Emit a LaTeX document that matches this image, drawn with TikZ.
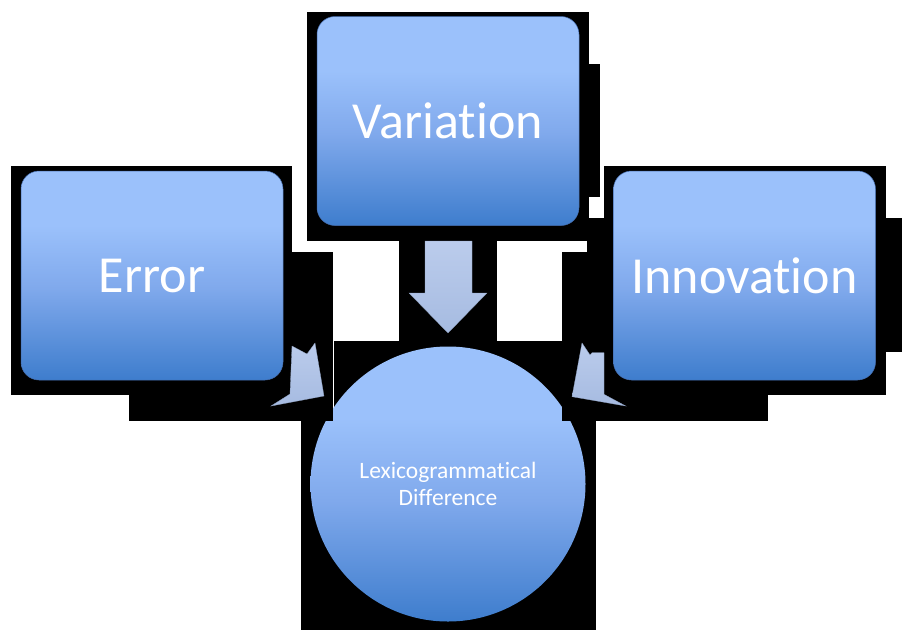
\documentclass[tikz,border=0pt]{standalone}
\usepackage{fontspec}
\setmainfont{Carlito}[Ligatures={NoCommon,NoRequired,NoContextual}]
\definecolor{bbot}{RGB}{62,125,205}
\definecolor{bmid}{RGB}{128,169,236}
\definecolor{btop}{RGB}{155,193,251}
\definecolor{atop}{RGB}{187,204,236}
\definecolor{abot}{RGB}{166,187,225}
\definecolor{bedge}{RGB}{70,110,175}
\pgfdeclareverticalshading{boxshade}{100bp}{color(0bp)=(bbot); color(25bp)=(bbot); color(47bp)=(bmid); color(62bp)=(btop); color(100bp)=(btop)}
\tikzset{
  shadowblk/.style={fill=black, draw=none},
  box/.style={rectangle, rounded corners=18pt, minimum width=262pt, minimum height=209pt,
    shading=boxshade, draw=bedge, line width=0.5pt, text=white, inner sep=0pt,
    font=\fontsize{52}{60}\selectfont},
  hub/.style={circle, minimum size=275pt, shading=boxshade, draw=none, text=white,
    align=center, inner sep=0pt, font=\fontsize{23.5}{26.5}\selectfont},
  blockarrow/.style={top color=atop, bottom color=abot, draw=abot!85!black, line width=0.3pt}
}
\begin{document}
\begin{tikzpicture}[x=1pt,y=-1pt]
\useasboundingbox (0,0) rectangle (902,630);
\fill[white] (0,0) rectangle (902,630);
% circle shadow
\fill[shadowblk] (334,341) rectangle (562,421);
\fill[shadowblk] (301,421) rectangle (596,630);
% circle
\node[hub] (diff) at (448,484) {Lexicogrammatical\\Difference};
% box shadows
\fill[shadowblk] (11,166) rectangle (292,395);
\fill[shadowblk] (129,252) rectangle (333,421);
\fill[shadowblk] (604,166) rectangle (886,395);
\fill[shadowblk] (886,218) rectangle (902,352);
\fill[shadowblk] (562,252) rectangle (768,421);
\fill[shadowblk] (587,218) rectangle (604,252);
\fill[shadowblk] (307,12) rectangle (589,241);
\fill[shadowblk] (589,64) rectangle (600,197);
\fill[shadowblk] (399,241) rectangle (497,341);
% boxes
\node[box] (err) at (152,275.5) {Error};
\node[box] (var) at (448,121) {Variation};
\node[box] (inn) at (744.5,275.5) {Innovation};
% block arrows
\path[blockarrow] (425,241) -- (472,241) -- (472,293) -- (487,293) -- (448,333)
  -- (409,293) -- (425,293) -- cycle;
\path[blockarrow] (292,346) -- (307,354) -- (315,343) -- (324,396) -- (271,406)
  -- (290,394) -- cycle;
\path[blockarrow] (582,343) -- (590,355) -- (592,352.7) -- (604,352.7) -- (604,394.3)
  -- (625.7,406) -- (572,396.7) -- cycle;
\end{tikzpicture}
\end{document}
